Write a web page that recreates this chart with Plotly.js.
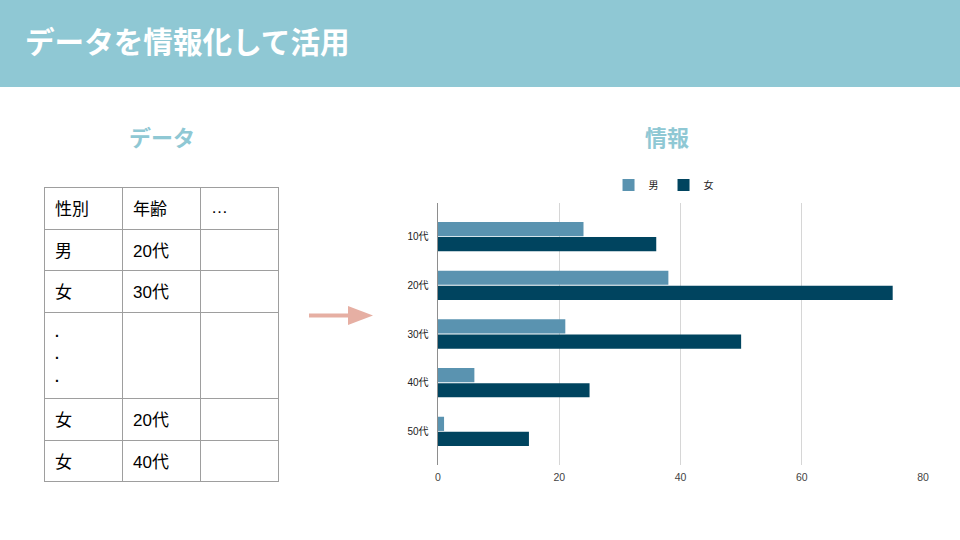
<!DOCTYPE html>
<html>
<head>
<meta charset="utf-8">
<script src="https://cdn.plot.ly/plotly-3.0.1.min.js"></script>
<style>
  body { margin: 0; width: 960px; height: 540px; position: relative; background: #fff; overflow: hidden;
         font-family: "Liberation Sans", "Noto Sans CJK JP", sans-serif; }
  #bar { position: absolute; left: 0; top: 0; width: 960px; height: 87px; background: #8fc8d4; }
  #title { position: absolute; left: 25px; top: 20px; color: #fff; font-size: 29.6px; font-weight: bold;
           font-family: "Noto Sans CJK JP", sans-serif; line-height: 42px; }
  .sub { position: absolute; top: 118px; color: #8fc8d4; font-size: 22px; font-weight: bold;
         font-family: "Noto Sans CJK JP", sans-serif; line-height: 36px; text-align: center; width: 200px; }
  table { position: absolute; left: 44px; top: 187px; border-collapse: collapse; }
  td { border: 1px solid #9e9e9e; width: 67px; padding: 0 0 2px 10px; font-size: 17px; color: #000;
       font-family: "Liberation Sans", "Noto Sans CJK JP", sans-serif; vertical-align: middle; }
  td.dots { line-height: 22.5px; font-size: 14px; font-weight: bold; }
  #arrow { position: absolute; left: 308px; top: 304px; }
  #chart { position: absolute; left: 0; top: 0; width: 960px; height: 540px; }
</style>
</head>
<body>
<div id="bar"></div>
<div id="title">データを情報化して活用</div>
<div class="sub" style="left:62px">データ</div>
<div class="sub" style="left:567px">情報</div>
<table id="tbl"></table>
<svg id="arrow" width="70" height="24">
  <rect x="1" y="9.5" width="42" height="4" fill="#e6afa3"></rect>
  <polygon points="40,2 65,11.5 40,21" fill="#e6afa3"></polygon>
</svg>
<div id="chart"></div>
<script>
// table on the left
const tableHeader = ['性別', '年齢', '…'];
const tableRows = [
  ['男', '20代', ''],
  ['女', '30代', ''],
  ['.<br>.<br>.', '', ''],
  ['女', '20代', ''],
  ['女', '40代', '']
];
const rowHeights = [42, 41, 42, 86, 42, 41];

// chart data
const ageGroups = ['10代', '20代', '30代', '40代', '50代'];
const male = [24, 38, 21, 6, 1];
const female = [36, 75, 50, 25, 15];

const tbl = document.getElementById('tbl');
[tableHeader].concat(tableRows).forEach((row, i) => {
  const tr = document.createElement('tr');
  tr.style.height = rowHeights[i] + 'px';
  row.forEach(cell => {
    const td = document.createElement('td');
    td.innerHTML = cell;
    if (cell.indexOf('<br>') >= 0) td.className = 'dots';
    tr.appendChild(td);
  });
  tbl.appendChild(tr);
});

const data = [{
  type: 'bar',
  orientation: 'h',
  name: '男',
  x: male,
  y: ageGroups,
  marker: {color: '#5a93b0'},
  hoverinfo: 'x'
}, {
  type: 'bar',
  orientation: 'h',
  name: '女',
  x: female,
  y: ageGroups,
  marker: {color: '#00445f'},
  hoverinfo: 'x'
}];

const layout = {
  width: 960,
  height: 540,
  barmode: 'group',
  bargap: 0.38,
  bargroupgap: 0.06,
  paper_bgcolor: 'rgba(0,0,0,0)',
  plot_bgcolor: 'rgba(0,0,0,0)',
  margin: {l: 438, r: 37, t: 203, b: 75},
  font: {family: 'Liberation Sans, Noto Sans CJK JP', size: 10, color: '#333'},
  xaxis: {
    range: [0, 80],
    dtick: 20,
    showgrid: true,
    gridcolor: '#d6d6d6',
    zeroline: false,
    showline: false,
    ticks: '',
    ticklabelstandoff: 4,
    tickfont: {size: 10.5, color: '#444'},
    fixedrange: true
  },
  yaxis: {
    type: 'category',
    range: [4.69, -0.69],
    showline: true,
    linecolor: '#8e8e8e',
    linewidth: 1.5,
    showgrid: false,
    ticks: '',
    ticklabelstandoff: 6,
    tickfont: {size: 10, color: '#222', family: 'Liberation Sans, Noto Sans CJK JP'},
    fixedrange: true
  },
  legend: {
    orientation: 'h',
    x: 0.465,
    xanchor: 'center',
    y: 1.069,
    yanchor: 'middle',
    font: {size: 10, color: '#222', family: 'Noto Sans CJK JP'},
    itemwidth: 30,
    traceorder: 'normal'
  },
  showlegend: true
};

Plotly.newPlot('chart', data, layout, {displayModeBar: false, staticPlot: true});
</script>
</body>
</html>
